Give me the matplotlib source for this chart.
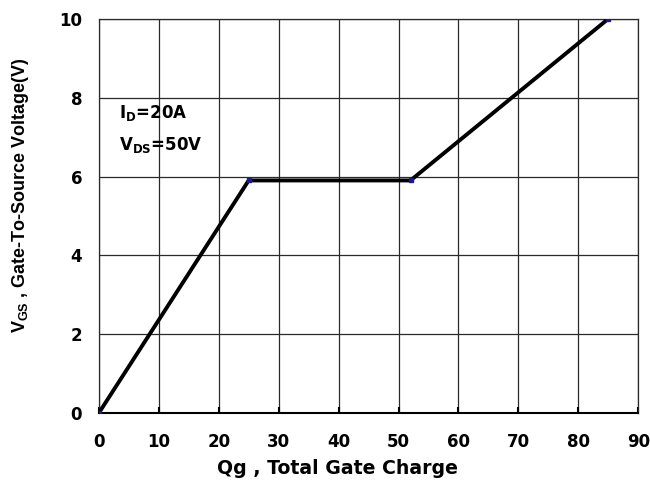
import matplotlib
matplotlib.use('Agg')
import matplotlib.pyplot as plt

# gate charge curve
qg  = [0, 25, 52, 85]
vgs = [0, 5.9, 5.9, 10]

x_ticks = [0, 10, 20, 30, 40, 50, 60, 70, 80, 90]
y_ticks = [0, 2, 4, 6, 8, 10]

# wide bold font to mimic the stretched datasheet text
plt.rcParams['font.family'] = ['DejaVu Sans']
plt.rcParams['font.weight'] = 'bold'
plt.rcParams['mathtext.default'] = 'regular'

fig = plt.figure(figsize=(6.5, 4.82), dpi=100)
ax = fig.add_axes([0.152, 0.143, 0.830, 0.818])

ax.plot(qg, vgs, color='black', lw=2.8, zorder=3)
ax.plot(qg, vgs, ls='none', marker='s', ms=2.5, color='#1a1a8c', zorder=4)

ax.set_xlim(0, 90)
ax.set_ylim(0, 10)
ax.set_xticks(x_ticks)
ax.set_yticks(y_ticks)
ax.grid(True, color='#2a2a2a', lw=0.9)
for s in ax.spines.values():
    s.set_color('#2a2a2a')
    s.set_linewidth(0.9)
ax.spines['bottom'].set_color('black')
ax.spines['bottom'].set_linewidth(1.5)

ax.tick_params(axis='x', direction='in', length=4, width=1.5, labelsize=12, pad=14)
ax.tick_params(axis='y', length=0, labelsize=12, pad=12)
for lab in ax.get_xticklabels() + ax.get_yticklabels():
    lab.set_fontweight('bold')

ax.set_xlabel('Qg , Total Gate Charge', fontsize=13.6, fontweight='bold', va='center')
ax.xaxis.set_label_coords(0.443, -0.14)
# vertical label is not stretched, so a narrower font fits its length
ax.set_ylabel(r'V$_{GS}$ , Gate-To-Source Voltage(V)', fontsize=13, fontweight='bold',
              family=['Liberation Sans', 'DejaVu Sans'], va='center')
ax.yaxis.set_label_coords(-0.145, 0.553)

ax.text(3.3, 7.49, r'I$_{D}$=20A', fontsize=12, fontweight='bold', va='baseline')
ax.text(3.3, 6.67, r'V$_{DS}$=50V', fontsize=12, fontweight='bold', va='baseline')

fig.savefig('out.png', dpi=100)
